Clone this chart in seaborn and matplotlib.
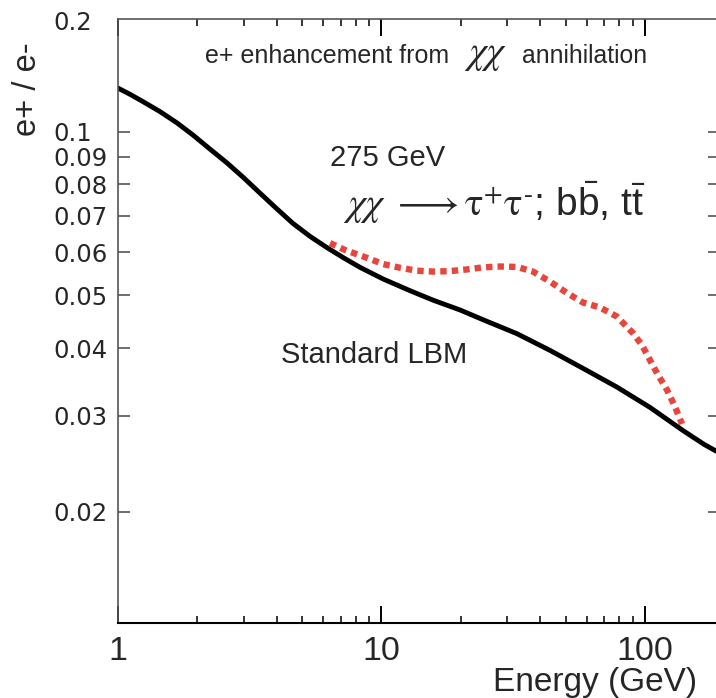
import matplotlib
matplotlib.use("Agg")
import matplotlib.pyplot as plt
import seaborn as sns
import pandas as pd
from matplotlib.ticker import FixedLocator, NullLocator, NullFormatter

# Standard leaky-box model positron fraction
energy_lbm = [1.0, 1.11, 1.244, 1.443, 1.675, 1.926, 2.234, 2.593, 2.981,
              3.458, 4.012, 4.615, 5.354, 6.211, 7.143, 8.288, 10.13, 12.83,
              15.68, 19.86, 24.28, 32.68, 43.61, 58.18, 78.29, 104.5, 139.4,
              167.5, 193.0]
ratio_lbm = [0.1203, 0.1172, 0.1136, 0.1089, 0.1038, 0.0986, 0.0929, 0.0876,
             0.0825, 0.0771, 0.0721, 0.0678, 0.0642, 0.0612, 0.0587, 0.0563,
             0.0536, 0.0510, 0.0490, 0.0470, 0.0451, 0.0425, 0.0396, 0.0367,
             0.0339, 0.0311, 0.0282, 0.0266, 0.0256]

# With the 275 GeV neutralino annihilation contribution
energy_dm = [6.376, 7.27, 8.81, 10.13, 11.75, 13.64, 15.68, 18.2, 21.11,
             24.28, 28.17, 32.68, 37.58, 43.61, 50.58, 58.18, 67.49, 78.29,
             90.05, 97.4, 104.5, 112.0, 121.2, 130.0, 138.2]
ratio_dm = [0.0624, 0.0606, 0.0586, 0.0571, 0.0562, 0.0555, 0.0553, 0.0554,
            0.0558, 0.0563, 0.0565, 0.0564, 0.0553, 0.0530, 0.0505, 0.0485,
            0.0475, 0.0457, 0.0426, 0.0405, 0.0380, 0.0357, 0.0335, 0.0312,
            0.0290]

y_ticks = [0.1, 0.09, 0.08, 0.07, 0.06, 0.05, 0.04, 0.03, 0.02]
y_tick_labels = ["0.1", "0.09", "0.08", "0.07", "0.06", "0.05", "0.04", "0.03", "0.02"]
x_ticks = [1, 10, 100]
x_tick_labels = ["1", "10", "100"]

sns.set_style("ticks")
plt.rcParams["font.family"] = ["Liberation Sans", "DejaVu Sans"]
plt.rcParams["mathtext.fontset"] = "custom"
plt.rcParams["mathtext.it"] = "STIXGeneral:italic"
plt.rcParams["mathtext.rm"] = "STIXGeneral"
plt.rcParams["mathtext.sf"] = "Liberation Sans"

W, H = 716, 698
fig = plt.figure(figsize=(W / 100, H / 100), dpi=100)
ax = fig.add_axes([118 / W, 75 / H, 602 / W, 604 / H])

lbm = pd.DataFrame({"energy": energy_lbm, "ratio": ratio_lbm})
dm = pd.DataFrame({"energy": energy_dm, "ratio": ratio_dm})

sns.lineplot(data=lbm, x="energy", y="ratio", ax=ax, color="black",
             lw=3.5, sort=False, estimator=None)
sns.lineplot(data=dm, x="energy", y="ratio", ax=ax, color="#e8453c",
             lw=4.6, sort=False, estimator=None, linestyle=(0, (1.0, 0.8)))

ax.set_xscale("log")
ax.set_yscale("log")
ax.set_xlim(1, 192.6)
ax.set_ylim(0.01248, 0.1612)

ax.set_xticks(x_ticks, labels=x_tick_labels)
ax.xaxis.set_minor_locator(FixedLocator([2, 3, 4, 5, 6, 7, 8, 9,
                                         20, 30, 40, 50, 60, 70, 80, 90]))
ax.xaxis.set_minor_formatter(NullFormatter())
ax.set_yticks(y_ticks, labels=y_tick_labels)
ax.yaxis.set_minor_locator(NullLocator())

ax.tick_params(axis="x", which="major", direction="in", length=12.5, width=1.4,
               color="black", top=True, bottom=True, pad=9.5)
ax.tick_params(axis="x", which="minor", direction="in", length=5, width=1.1,
               color="black", top=True, bottom=True)
ax.tick_params(axis="y", which="major", direction="in", length=8.8, width=1.2,
               color="#555555", left=True, right=True, pad=46.8)

for lbl in ax.get_xticklabels():
    lbl.set_fontsize(24.5)
for lbl in ax.get_yticklabels():
    lbl.set_horizontalalignment("left")
    lbl.set_fontfamily(["DejaVu Sans"])
    lbl.set_fontsize(17.5)

for side in ["left", "top", "right"]:
    ax.spines[side].set_color("#555555")
    ax.spines[side].set_linewidth(1.2)
ax.spines["right"].set_visible(False)
ax.spines["bottom"].set_color("black")
ax.spines["bottom"].set_linewidth(1.5)

ax.set_xlabel("Energy (GeV)", fontsize=24, ha="right", va="baseline")
ax.xaxis.set_label_coords((697 - 118) / 602, (623 - 691) / 604)
ax.set_ylabel("e+ / e-", fontsize=23.5, ha="center", va="center")
ax.yaxis.set_label_coords((28 - 118) / 602, (623 - 89) / 604)


def put(x, y, s, **kw):
    fig.text(x / W, 1 - y / H, s, **kw)


put(53, 22.5, "0.2", ha="left", va="center", fontsize=17.5, fontfamily=["DejaVu Sans"])
put(205, 63, "e+ enhancement from", ha="left", va="baseline", fontsize=18)
put(464, 63, r"$\chi\chi$", ha="left", va="baseline", fontsize=28)
put(522, 63, "annihilation", ha="left", va="baseline", fontsize=17.8)
put(330, 166, "275 GeV", ha="left", va="baseline", fontsize=21)
put(343, 216,
    r"$\chi\chi\ \longrightarrow\mathrm{\tau}^{+}\mathrm{\tau}^{\text{-}}$; b$\bar{\mathsf{b}}$, t$\bar{\mathsf{t}}$",
    ha="left", va="baseline", fontsize=28)
put(281, 363, "Standard LBM", ha="left", va="baseline", fontsize=21)

fig.savefig("out.png", dpi=100)
